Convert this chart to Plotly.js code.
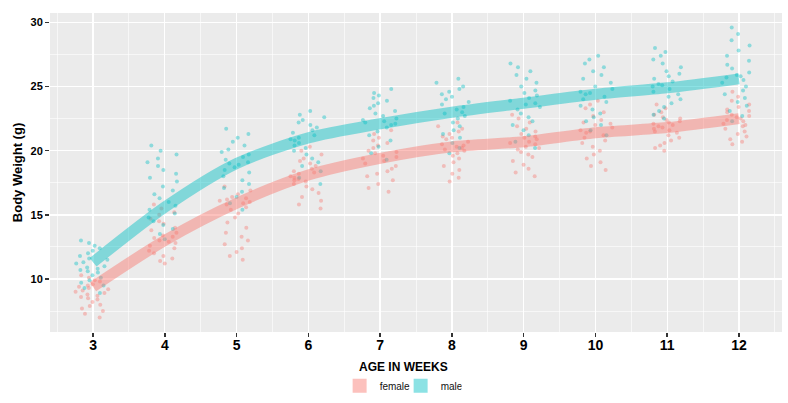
<!DOCTYPE html>
<html>
<head>
<meta charset="utf-8">
<script src="https://cdn.plot.ly/plotly-3.0.1.min.js"></script>
<style>html,body{margin:0;padding:0;background:#fff;}#chart{width:788px;height:403px;}</style>
</head>
<body>
<div id="chart"></div>
<script>
// Age in weeks (categories)
const weeks = [3, 4, 5, 6, 7, 8, 9, 10, 11, 12];
const tickLabels = ["3", "4", "5", "6", "7", "8", "9", "10", "11", "12"];

// Female body weights (g) per week
const f3  = [10.3, 10.1, 9.9, 9.8, 9.6, 9.5, 9.4, 9.3, 9.2, 9.1, 9.0, 8.9, 8.8, 8.7, 8.6, 8.5, 8.4, 8.2, 8.0, 7.9, 7.7, 7.5, 7.3, 7.0];
const f4  = [15.8, 15.5, 15.2, 15.0, 14.7, 14.5, 14.3, 14.0, 13.8, 13.6, 13.4, 13.2, 13.0, 12.8, 12.6, 12.4, 12.2, 12.0, 11.8, 11.6, 11.4, 11.2, 12.9, 13.3];
const f5  = [17.2, 16.9, 16.6, 16.4, 16.2, 16.1, 16.0, 15.8, 15.6, 15.4, 15.1, 14.8, 14.4, 14.0, 13.6, 13.3, 13.0, 12.7, 12.4, 12.1, 11.8, 11.5, 15.9, 16.3];
const f6  = [20.3, 20.0, 19.7, 19.4, 19.2, 19.0, 18.8, 18.6, 18.4, 18.2, 18.0, 17.9, 17.8, 17.6, 17.4, 17.2, 17.0, 16.7, 16.4, 16.1, 15.8, 15.5, 18.3, 17.7];
const f7  = [21.6, 21.3, 21.0, 20.8, 20.6, 20.4, 20.2, 20.0, 19.8, 19.6, 19.5, 19.4, 19.2, 19.0, 18.8, 18.6, 18.4, 18.2, 18.0, 17.7, 17.4, 17.1, 16.8, 19.9];
const f8  = [22.2, 21.9, 21.7, 21.5, 21.3, 21.1, 20.9, 20.7, 20.5, 20.4, 20.3, 20.2, 20.1, 20.0, 19.8, 19.6, 19.4, 19.1, 18.8, 18.5, 18.2, 17.9, 17.6, 21.0];
const f9  = [22.8, 22.5, 22.2, 21.9, 21.7, 21.5, 21.3, 21.1, 20.9, 20.7, 20.6, 20.5, 20.3, 20.1, 19.9, 19.7, 19.5, 19.2, 18.9, 18.6, 18.3, 18.0, 21.0, 20.2];
const f10 = [23.9, 23.6, 23.3, 23.0, 22.7, 22.4, 22.2, 22.0, 21.8, 21.6, 21.4, 21.2, 21.0, 20.8, 20.6, 20.3, 20.0, 19.7, 19.4, 19.1, 18.8, 18.5, 21.5, 22.1];
const f11 = [23.6, 23.3, 23.0, 22.8, 22.6, 22.4, 22.3, 22.2, 22.1, 22.0, 21.9, 21.8, 21.7, 21.6, 21.4, 21.2, 21.0, 20.8, 20.6, 20.4, 20.2, 20.0, 22.5, 21.5];
const f12 = [24.6, 24.2, 23.9, 23.6, 23.4, 23.2, 23.0, 22.8, 22.6, 22.5, 22.4, 22.3, 22.1, 21.9, 21.7, 21.5, 21.3, 21.1, 20.9, 20.7, 20.5, 22.7, 22.0, 23.1];

// Male body weights (g) per week
const m3  = [13.0, 12.8, 12.6, 12.4, 12.2, 12.0, 11.8, 11.6, 11.5, 11.3, 11.2, 11.0, 10.9, 10.8, 10.7, 10.6, 10.5, 10.3, 10.1, 9.9, 9.7, 9.5, 9.3, 8.9];
const m4  = [20.4, 20.0, 19.7, 19.4, 19.1, 18.8, 18.5, 18.2, 17.9, 17.6, 17.2, 16.9, 16.6, 16.3, 16.0, 15.7, 15.4, 15.1, 14.8, 14.5, 14.2, 13.9, 13.5, 13.1];
const m5  = [21.7, 21.3, 21.0, 20.7, 20.4, 20.1, 19.9, 19.7, 19.5, 19.3, 19.1, 19.0, 18.9, 18.7, 18.5, 18.3, 18.0, 17.7, 17.4, 17.1, 16.8, 16.4, 15.9, 15.4];
const m6  = [23.1, 22.8, 22.6, 22.4, 22.2, 22.0, 21.8, 21.6, 21.4, 21.2, 21.0, 20.9, 20.8, 20.6, 20.4, 20.2, 20.0, 19.7, 19.4, 19.1, 18.8, 18.4, 17.9, 17.4];
const m7  = [24.8, 24.5, 24.3, 24.1, 23.9, 23.7, 23.5, 23.3, 23.1, 22.9, 22.7, 22.5, 22.4, 22.3, 22.2, 22.1, 22.0, 21.8, 21.5, 21.2, 20.8, 20.3, 19.8, 19.3];
const m8  = [25.6, 25.3, 25.0, 24.8, 24.6, 24.4, 24.2, 24.0, 23.8, 23.6, 23.4, 23.2, 23.0, 22.9, 22.7, 22.5, 22.2, 21.9, 21.6, 21.3, 21.0, 20.6, 20.2, 19.8];
const m9  = [26.8, 26.5, 26.2, 25.9, 25.6, 25.3, 25.0, 24.7, 24.5, 24.3, 24.1, 23.9, 23.7, 23.6, 23.4, 23.2, 22.9, 22.6, 22.3, 22.0, 21.6, 21.2, 20.7, 20.2];
const m10 = [27.4, 27.1, 26.8, 26.5, 26.2, 25.9, 25.6, 25.3, 25.0, 24.8, 24.6, 24.4, 24.2, 24.0, 23.8, 23.5, 23.2, 22.9, 22.6, 22.3, 22.0, 21.6, 21.2, 24.5];
const m11 = [28.0, 27.7, 27.4, 27.1, 26.8, 26.5, 26.2, 26.0, 25.8, 25.6, 25.4, 25.2, 25.0, 24.8, 24.6, 24.4, 24.2, 24.0, 23.7, 23.4, 23.1, 22.8, 22.5, 25.1];
const m12 = [29.6, 29.1, 28.6, 28.2, 27.8, 27.4, 27.0, 26.7, 26.4, 26.1, 25.9, 25.7, 25.5, 25.3, 25.0, 24.7, 24.4, 24.1, 23.8, 23.5, 23.1, 22.7, 22.3, 25.8];

// Smoothed trend per week
const femaleFit = [9.4, 13.0, 15.9, 18.1, 19.4, 20.3, 20.7, 21.4, 21.8, 22.5];
const maleFit   = [11.3, 15.6, 19.0, 21.0, 22.1, 23.0, 23.7, 24.4, 24.9, 25.6];

const femaleSets = [f3, f4, f5, f6, f7, f8, f9, f10, f11, f12];
const maleSets   = [m3, m4, m5, m6, m7, m8, m9, m10, m11, m12];

function flatten(sets) {
  const xs = [], ys = [];
  sets.forEach((arr, i) => arr.forEach(v => { xs.push(weeks[i]); ys.push(v); }));
  return {xs, ys};
}
const fd = flatten(femaleSets);
const md = flatten(maleSets);

const FEM = '248,118,109';
const MAL = '0,191,196';

function pts(d, rgb, name) {
  return {
    type: 'box', x: d.xs, y: d.ys, name: name, showlegend: false,
    boxpoints: 'all', jitter: 1, pointpos: 0, width: 0.5,
    fillcolor: 'rgba(0,0,0,0)', line: {width: 0, color: 'rgba(0,0,0,0)'},
    whiskerwidth: 0,
    marker: {color: 'rgba(' + rgb + ',0.4)', size: 4},
    hoverinfo: 'skip'
  };
}
function fit(vals, rgb, name) {
  return {
    type: 'scatter', mode: 'lines', x: weeks, y: vals, name: name, showlegend: false,
    line: {color: 'rgba(' + rgb + ',0.45)', width: 11, shape: 'spline', smoothing: 0.8},
    hoverinfo: 'skip'
  };
}
function key(rgb, name) {
  return {
    type: 'scatter', mode: 'markers', x: [null], y: [null], name: name,
    marker: {symbol: 'square', size: 14, color: 'rgba(' + rgb + ',0.45)'}
  };
}

const data = [
  pts(fd, FEM, 'female'), pts(md, MAL, 'male'),
  fit(femaleFit, FEM, 'female'), fit(maleFit, MAL, 'male'),
  key(FEM, 'female'), key(MAL, 'male')
];

const layout = {
  width: 788, height: 403,
  margin: {l: 50, r: 6, t: 13, b: 71, autoexpand: false},
  paper_bgcolor: '#ffffff', plot_bgcolor: '#EBEBEB',
  font: {family: 'Liberation Sans, Arial, sans-serif', color: '#000'},
  boxmode: 'overlay',
  xaxis: {
    range: [2.4, 12.6], tickvals: weeks, ticktext: tickLabels,
    showgrid: true, gridcolor: '#ffffff', gridwidth: 1.3, zeroline: false,
    minor: {dtick: 0.5, tick0: 2.5, showgrid: true, gridcolor: '#ffffff', gridwidth: 0.6, ticks: ''},
    ticks: 'outside', ticklen: 4, tickwidth: 1.5, tickcolor: '#333333',
    ticklabelstandoff: -4,
    tickfont: {size: 14, color: '#000', family: 'Liberation Sans, Arial, sans-serif', weight: 'bold'},
    showline: false, automargin: false
  },
  yaxis: {
    range: [5.87, 30.73], tickvals: [10, 15, 20, 25, 30],
    showgrid: true, gridcolor: '#ffffff', gridwidth: 1.3, zeroline: false,
    minor: {dtick: 2.5, tick0: 7.5, showgrid: true, gridcolor: '#ffffff', gridwidth: 0.6, ticks: ''},
    ticks: 'outside', ticklen: 4, tickwidth: 1.5, tickcolor: '#333333',
    tickfont: {size: 11, color: '#000', family: 'Liberation Sans, Arial, sans-serif', weight: 'bold'},
    title: {text: 'Body Weight (g)', font: {size: 13, color: '#000', weight: 'bold'}, standoff: 4},
    showline: false, automargin: false
  },
  annotations: [{
    text: 'AGE IN WEEKS', xref: 'paper', yref: 'paper', x: 0.4836, y: -0.11,
    xanchor: 'center', yanchor: 'middle', showarrow: false,
    font: {size: 12, color: '#000', weight: 'bold'}
  }],
  legend: {
    orientation: 'h', x: 0.479, xanchor: 'center', y: -0.123, yanchor: 'top',
    font: {size: 10, color: '#111'}, itemwidth: 30, entrywidth: 16, entrywidthmode: 'pixels',
    tracegroupgap: 0, bgcolor: 'rgba(0,0,0,0)', borderwidth: 0
  }
};

Plotly.newPlot('chart', data, layout, {staticPlot: true, displayModeBar: false});
</script>
</body>
</html>
